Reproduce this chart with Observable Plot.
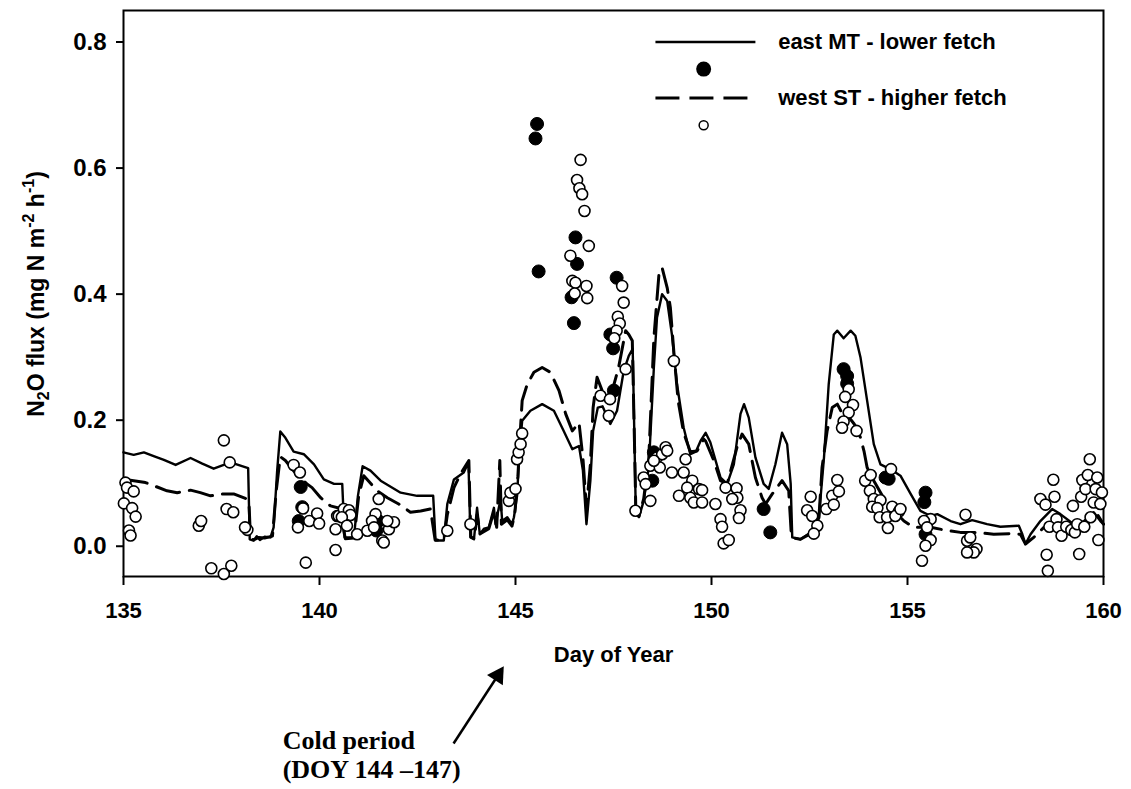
<!DOCTYPE html>
<html>
<head>
<meta charset="utf-8">
<script src="https://cdn.jsdelivr.net/npm/d3@7"></script>
<script src="https://cdn.jsdelivr.net/npm/@observablehq/plot@0.6"></script>
<style>
  html, body { margin: 0; padding: 0; background: #fff; }
  #chart { width: 1131px; height: 789px; }
</style>
</head>
<body>
<div id="chart"></div>
<script>
// N2O flux, modelled (lines) and measured (dots), day of year 135-160

const xTicks = [135, 140, 145, 150, 155, 160];
const yTicks = [0.0, 0.2, 0.4, 0.6, 0.8];

// east MT - lower fetch, modelled flux [day, mg N m-2 h-1]
const eastModel = [
  [135.00,0.149],[135.26,0.145],[135.52,0.149],[135.77,0.143],[136.03,0.137],[136.33,0.129],
  [136.71,0.140],[137.01,0.131],[137.30,0.123],[137.73,0.133],[138.18,0.124],[138.22,0.011],
  [138.32,0.009],[138.40,0.016],[138.48,0.010],[138.60,0.015],[138.75,0.014],[138.83,0.030],
  [138.92,0.120],[139.00,0.182],[139.13,0.172],[139.34,0.150],[139.60,0.146],[139.86,0.130],
  [140.11,0.106],[140.37,0.099],[140.58,0.099],[140.64,0.014],[140.88,0.014],[140.98,0.080],
  [141.10,0.127],[141.30,0.120],[141.56,0.104],[142.07,0.085],[142.49,0.080],[142.90,0.080],
  [142.96,0.009],[143.17,0.009],[143.26,0.067],[143.43,0.106],[143.68,0.117],[143.80,0.133],
  [143.85,0.014],[143.94,0.011],[144.02,0.061],[144.09,0.019],[144.20,0.028],[144.32,0.030],
  [144.45,0.061],[144.49,0.035],[144.62,0.075],[144.66,0.040],[144.79,0.046],[144.91,0.035],
  [144.96,0.046],[145.04,0.080],[145.10,0.150],[145.17,0.199],[145.38,0.215],[145.68,0.2255],
  [145.98,0.215],[146.23,0.183],[146.45,0.154],[146.62,0.159],[146.72,0.120],[146.81,0.035],
  [146.91,0.104],[146.98,0.183],[147.10,0.220],[147.22,0.222],[147.42,0.194],[147.59,0.215],
  [147.76,0.278],[147.89,0.302],[147.99,0.313],[148.04,0.150],[148.07,0.051],[148.15,0.046],
  [148.27,0.072],[148.40,0.125],[148.53,0.284],[148.61,0.363],[148.74,0.400],[148.87,0.389],
  [148.99,0.336],[149.12,0.257],[149.29,0.188],[149.46,0.146],[149.60,0.150],[149.72,0.167],
  [149.85,0.180],[149.97,0.165],[150.23,0.109],[150.40,0.099],[150.57,0.130],[150.74,0.210],
  [150.83,0.2255],[150.95,0.204],[151.12,0.141],[151.33,0.099],[151.46,0.091],[151.63,0.130],
  [151.80,0.180],[151.93,0.162],[152.02,0.099],[152.06,0.014],[152.27,0.011],[152.53,0.022],
  [152.74,0.046],[152.87,0.141],[152.99,0.257],[153.12,0.336],[153.21,0.342],[153.37,0.330],
  [153.55,0.342],[153.67,0.334],[153.80,0.300],[153.97,0.231],[154.14,0.162],[154.31,0.130],
  [154.57,0.122],[154.82,0.112],[155.08,0.083],[155.33,0.056],[155.59,0.048],[155.76,0.051],
  [156.10,0.040],[156.35,0.035],[156.65,0.0415],[157.03,0.035],[157.37,0.031],[157.84,0.0325],
  [157.93,0.019],[158.01,0.0035],[158.14,0.019],[158.39,0.040],[158.69,0.059],[158.90,0.051],
  [159.24,0.035],[159.50,0.040],[159.75,0.054],[159.92,0.040],[160.00,0.035]
];

// west ST - higher fetch, modelled flux
const westModel = [
  [135.00,0.1065],[135.26,0.104],[135.56,0.101],[135.86,0.094],[136.11,0.088],[136.37,0.085],
  [136.71,0.089],[136.96,0.085],[137.22,0.080],[137.52,0.083],[137.81,0.083],[138.11,0.076],
  [138.20,0.070],[138.24,0.012],[138.32,0.010],[138.45,0.014],[138.60,0.013],[138.80,0.016],
  [138.90,0.090],[139.00,0.142],[139.13,0.136],[139.40,0.115],[139.68,0.099],[139.81,0.093],
  [140.03,0.077],[140.28,0.064],[140.54,0.060],[140.60,0.030],[140.66,0.012],[140.88,0.013],
  [141.00,0.080],[141.13,0.112],[141.47,0.088],[141.73,0.077],[142.02,0.067],[142.32,0.054],
  [142.58,0.056],[142.83,0.059],[142.95,0.010],[143.17,0.010],[143.26,0.050],[143.43,0.093],
  [143.60,0.115],[143.81,0.136],[143.86,0.015],[143.95,0.012],[144.02,0.050],[144.10,0.020],
  [144.32,0.028],[144.45,0.055],[144.52,0.030],[144.60,0.136],[144.64,0.035],[144.79,0.042],
  [144.91,0.032],[144.98,0.050],[145.06,0.110],[145.12,0.180],[145.17,0.231],[145.30,0.257],
  [145.47,0.276],[145.68,0.2835],[145.89,0.276],[146.11,0.247],[146.28,0.210],[146.45,0.183],
  [146.62,0.196],[146.72,0.140],[146.81,0.060],[146.91,0.130],[146.98,0.220],[147.08,0.268],
  [147.21,0.247],[147.42,0.236],[147.63,0.2835],[147.81,0.342],[147.89,0.336],[147.98,0.326],
  [148.04,0.150],[148.07,0.055],[148.15,0.048],[148.27,0.075],[148.40,0.140],[148.53,0.330],
  [148.66,0.432],[148.74,0.442],[148.87,0.410],[148.95,0.379],[149.05,0.300],[149.15,0.230],
  [149.29,0.180],[149.46,0.150],[149.63,0.151],[149.80,0.170],[149.85,0.167],[150.06,0.136],
  [150.23,0.104],[150.40,0.099],[150.65,0.157],[150.78,0.178],[150.95,0.162],[151.12,0.109],
  [151.29,0.077],[151.38,0.067],[151.55,0.083],[151.80,0.104],[151.97,0.088],[152.04,0.014],
  [152.27,0.011],[152.53,0.020],[152.74,0.045],[152.82,0.125],[152.95,0.183],[153.08,0.220],
  [153.21,0.2255],[153.34,0.210],[153.50,0.205],[153.64,0.194],[153.80,0.1725],[153.89,0.151],
  [153.97,0.125],[154.14,0.104],[154.48,0.067],[154.91,0.040],[155.16,0.030],[155.59,0.030],
  [156.01,0.025],[156.35,0.022],[156.78,0.022],[157.20,0.019],[157.63,0.020],[157.88,0.019],
  [158.01,0.0035],[158.22,0.014],[158.48,0.030],[158.69,0.0325],[158.98,0.019],[159.24,0.030],
  [159.58,0.035],[159.84,0.051],[160.00,0.035]
];

// east MT measured flux (filled dots)
const eastObserved = [
  [145.55,0.670],[145.51,0.647],[145.59,0.436],[146.53,0.490],[146.57,0.448],[146.43,0.395],
  [146.49,0.354],[147.58,0.426],[147.42,0.336],[147.49,0.314],[147.51,0.247],[148.53,0.149],
  [148.49,0.104],[139.52,0.094],[139.56,0.062],[139.47,0.040],[141.45,0.025],[141.50,0.040],
  [153.37,0.281],[153.46,0.270],[153.46,0.258],[154.44,0.109],[154.52,0.107],[151.33,0.059],
  [151.50,0.022],[155.46,0.085],[155.43,0.070],[155.46,0.019]
];

// west ST measured flux (open dots)
const westObserved = [
  [135.05,0.101],[135.09,0.093],[135.26,0.087],[135.01,0.068],[135.22,0.0605],[135.31,0.047],
  [135.14,0.025],[135.18,0.017],[136.92,0.0325],[136.98,0.040],[137.56,0.168],[137.71,0.133],
  [137.63,0.059],[137.80,0.054],[137.24,-0.035],[137.56,-0.044],[137.75,-0.031],[138.16,0.026],
  [138.10,0.030],[139.34,0.129],[139.50,0.117],[139.58,0.060],[139.45,0.030],[139.74,0.040],
  [139.94,0.052],[139.99,0.036],[139.65,-0.026],[140.45,0.048],[140.41,0.027],[140.41,-0.006],
  [140.49,0.048],[140.62,0.059],[140.75,0.057],[140.79,0.0495],[140.57,0.046],[140.70,0.0325],
  [140.96,0.019],[141.22,0.0246],[141.51,0.075],[141.43,0.051],[141.34,0.040],[141.39,0.030],
  [141.60,0.009],[141.64,0.006],[141.77,0.027],[141.90,0.038],[141.73,0.040],[143.26,0.0246],
  [143.85,0.035],[144.83,0.072],[144.87,0.085],[145.00,0.091],[145.04,0.138],[145.08,0.149],
  [145.13,0.162],[145.17,0.179],[146.66,0.613],[146.57,0.581],[146.63,0.568],[146.70,0.5585],
  [146.76,0.532],[146.87,0.4765],[146.40,0.461],[146.45,0.421],[146.53,0.418],[146.81,0.413],
  [146.51,0.401],[146.83,0.3936],[147.72,0.413],[147.76,0.3866],[147.61,0.364],[147.66,0.3533],
  [147.58,0.342],[147.52,0.330],[147.81,0.281],[147.17,0.2387],[147.41,0.2334],[147.38,0.207],
  [149.04,0.294],[148.06,0.0563],[148.27,0.109],[148.32,0.0986],[148.44,0.072],[148.44,0.1277],
  [148.61,0.141],[148.74,0.146],[148.83,0.157],[148.87,0.1515],[148.68,0.125],[148.99,0.117],
  [148.53,0.1356],[149.34,0.138],[149.29,0.117],[149.51,0.104],[149.38,0.093],[149.68,0.0907],
  [149.17,0.080],[149.46,0.077],[149.55,0.0695],[149.76,0.0695],[149.76,0.089],[150.10,0.067],
  [150.23,0.043],[150.27,0.031],[150.31,0.0045],[150.44,0.0098],[150.36,0.093],[150.64,0.092],
  [150.66,0.077],[150.53,0.075],[150.74,0.057],[150.70,0.0447],[152.53,0.0785],[152.44,0.057],
  [152.57,0.048],[152.70,0.0325],[152.61,0.020],[152.93,0.059],[153.08,0.080],[153.12,0.066],
  [153.21,0.105],[153.25,0.087],[153.50,0.249],[153.41,0.237],[153.61,0.224],[153.50,0.212],
  [153.37,0.198],[153.33,0.188],[153.70,0.183],[153.92,0.104],[154.06,0.113],[154.04,0.088],
  [154.14,0.075],[154.31,0.073],[154.10,0.0626],[154.23,0.0605],[154.29,0.046],[154.48,0.046],
  [154.50,0.029],[154.61,0.0626],[154.78,0.055],[154.69,0.048],[154.58,0.1224],[154.82,0.059],
  [155.59,0.043],[155.42,0.040],[155.50,0.030],[155.59,0.0098],[155.46,0.0008],[155.37,-0.023],
  [156.48,0.050],[156.52,0.0087],[156.60,0.014],[156.76,-0.0044],[156.69,-0.0098],[156.52,-0.0098],
  [158.39,0.075],[158.52,0.066],[158.72,0.1055],[158.75,0.0785],[158.55,-0.0135],[158.58,-0.039],
  [158.80,0.043],[158.62,0.031],[158.84,0.030],[158.93,0.0167],[159.05,0.031],[159.22,0.064],
  [159.18,0.0257],[159.27,0.022],[159.38,-0.0124],[159.33,0.035],[159.51,0.031],[159.43,0.0785],
  [159.46,0.105],[159.60,0.113],[159.65,0.138],[159.54,0.0907],[159.84,0.109],[159.80,0.0907],
  [159.75,0.0695],[159.92,0.067],[159.67,0.046],[159.96,0.0853],[159.87,0.0098]
];

const seriesLabels = ["east MT - lower fetch", "west ST - higher fetch"];
const annotationLines = ["Cold period", "(DOY 144 \u2013147)"];

const toRows = arr => arr.map(([day, flux]) => ({day, flux}));
const east = toRows(eastModel);
const west = toRows(westModel);
const eastPts = toRows(eastObserved);
const westPts = toRows(westObserved);

const sans = "'Liberation Sans', Arial, Helvetica, sans-serif";
const serif = "'Liberation Serif', 'Times New Roman', serif";
const dashPattern = "24,10";

// legend rows, placed in data units at the upper right of the panel
const legendSolid = [{x1: 148.57, x2: 151.12, flux: 0.800}];
const legendDashed = [{x1: 148.57, x2: 151.12, flux: 0.711}];
const legendText = [
  {day: 151.70, flux: 0.800, label: seriesLabels[0]},
  {day: 151.70, flux: 0.711, label: seriesLabels[1]}
];

const plot = Plot.plot({
  width: 1131,
  height: 789,
  marginLeft: 123,
  marginRight: 28,
  marginTop: 10,
  marginBottom: 213,
  style: {fontFamily: sans, fontSize: "22px", fontWeight: "bold", background: "#fff", color: "#000"},
  x: {domain: [135, 160]},
  y: {domain: [-0.048, 0.85]},
  marks: [
    Plot.axisX({ticks: xTicks, tickSize: 9, tickPadding: 17, tickFormat: d => String(d), label: null, strokeWidth: 2}),
    Plot.axisY({ticks: yTicks, tickSize: 7, tickPadding: 10, tickFormat: d3.format(".1f"), label: null, strokeWidth: 2}),
    Plot.frame({stroke: "#000", strokeWidth: 2}),
    Plot.line(west, {x: "day", y: "flux", stroke: "#000", strokeWidth: 3, strokeDasharray: dashPattern}),
    Plot.line(east, {x: "day", y: "flux", stroke: "#000", strokeWidth: 2.4}),
    Plot.dot(eastPts, {x: "day", y: "flux", r: 6.5, fill: "#000", stroke: "#000", strokeWidth: 1}),
    Plot.dot(westPts, {x: "day", y: "flux", r: 5.5, fill: "#fff", stroke: "#000", strokeWidth: 1.6}),
    // legend
    Plot.link(legendSolid, {x1: "x1", x2: "x2", y1: "flux", y2: "flux", stroke: "#000", strokeWidth: 2.4}),
    Plot.link(legendDashed, {x1: "x1", x2: "x2", y1: "flux", y2: "flux", stroke: "#000", strokeWidth: 3, strokeDasharray: dashPattern}),
    Plot.dot([{day: 149.80, flux: 0.757}], {x: "day", y: "flux", r: 7.5, fill: "#000"}),
    Plot.dot([{day: 149.80, flux: 0.668}], {x: "day", y: "flux", r: 4.5, fill: "#fff", stroke: "#000", strokeWidth: 1.5}),
    Plot.text(legendText, {x: "day", y: "flux", text: "label", textAnchor: "start", lineAnchor: "middle", fontSize: 22, fontWeight: "bold"}),
    // x axis title
    Plot.text(["Day of Year"], {frameAnchor: "bottom", dy: 85, text: d => d, fontSize: 22, fontWeight: "bold"}),
    // cold-period annotation
    Plot.link([{x1: 143.42, y1: -0.313, x2: 144.55, y2: -0.205}], {x1: "x1", y1: "y1", x2: "x2", y2: "y2", stroke: "#000", strokeWidth: 2.5}),
    Plot.dot([{day: 144.55, flux: -0.205}], {x: "day", y: "flux", symbol: "triangle", r: 7, fill: "#000", rotate: 33}),
    Plot.text([
      {day: 139.06, flux: -0.308, label: annotationLines[0]},
      {day: 139.06, flux: -0.354, label: annotationLines[1]}
    ], {x: "day", y: "flux", text: "label", textAnchor: "start", lineAnchor: "middle", fontFamily: serif, fontSize: 26, fontWeight: "bold"})
  ]
});

const svg = d3.select(plot);

// slightly larger y tick labels
svg.selectAll('g[aria-label="y-axis tick label"]').attr("font-size", 24);
svg.selectAll('g[aria-label="y-axis tick label"] text').attr("font-size", 24);

// y axis title with subscript and superscripts
const yTitle = svg.append("text")
  .attr("transform", "translate(44,294) rotate(-90)")
  .attr("text-anchor", "middle")
  .attr("font-family", sans)
  .attr("font-size", 23)
  .attr("font-weight", "bold")
  .attr("fill", "#000");
yTitle.append("tspan").text("N");
yTitle.append("tspan").attr("font-size", 16).attr("dy", 5).text("2");
yTitle.append("tspan").attr("dy", -5).text("O flux (mg N m");
yTitle.append("tspan").attr("font-size", 16).attr("dy", -10).text("-2");
yTitle.append("tspan").attr("dy", 10).text(" h");
yTitle.append("tspan").attr("font-size", 16).attr("dy", -10).text("-1");
yTitle.append("tspan").attr("dy", 10).text(")");

document.getElementById("chart").appendChild(plot);
</script>
</body>
</html>
